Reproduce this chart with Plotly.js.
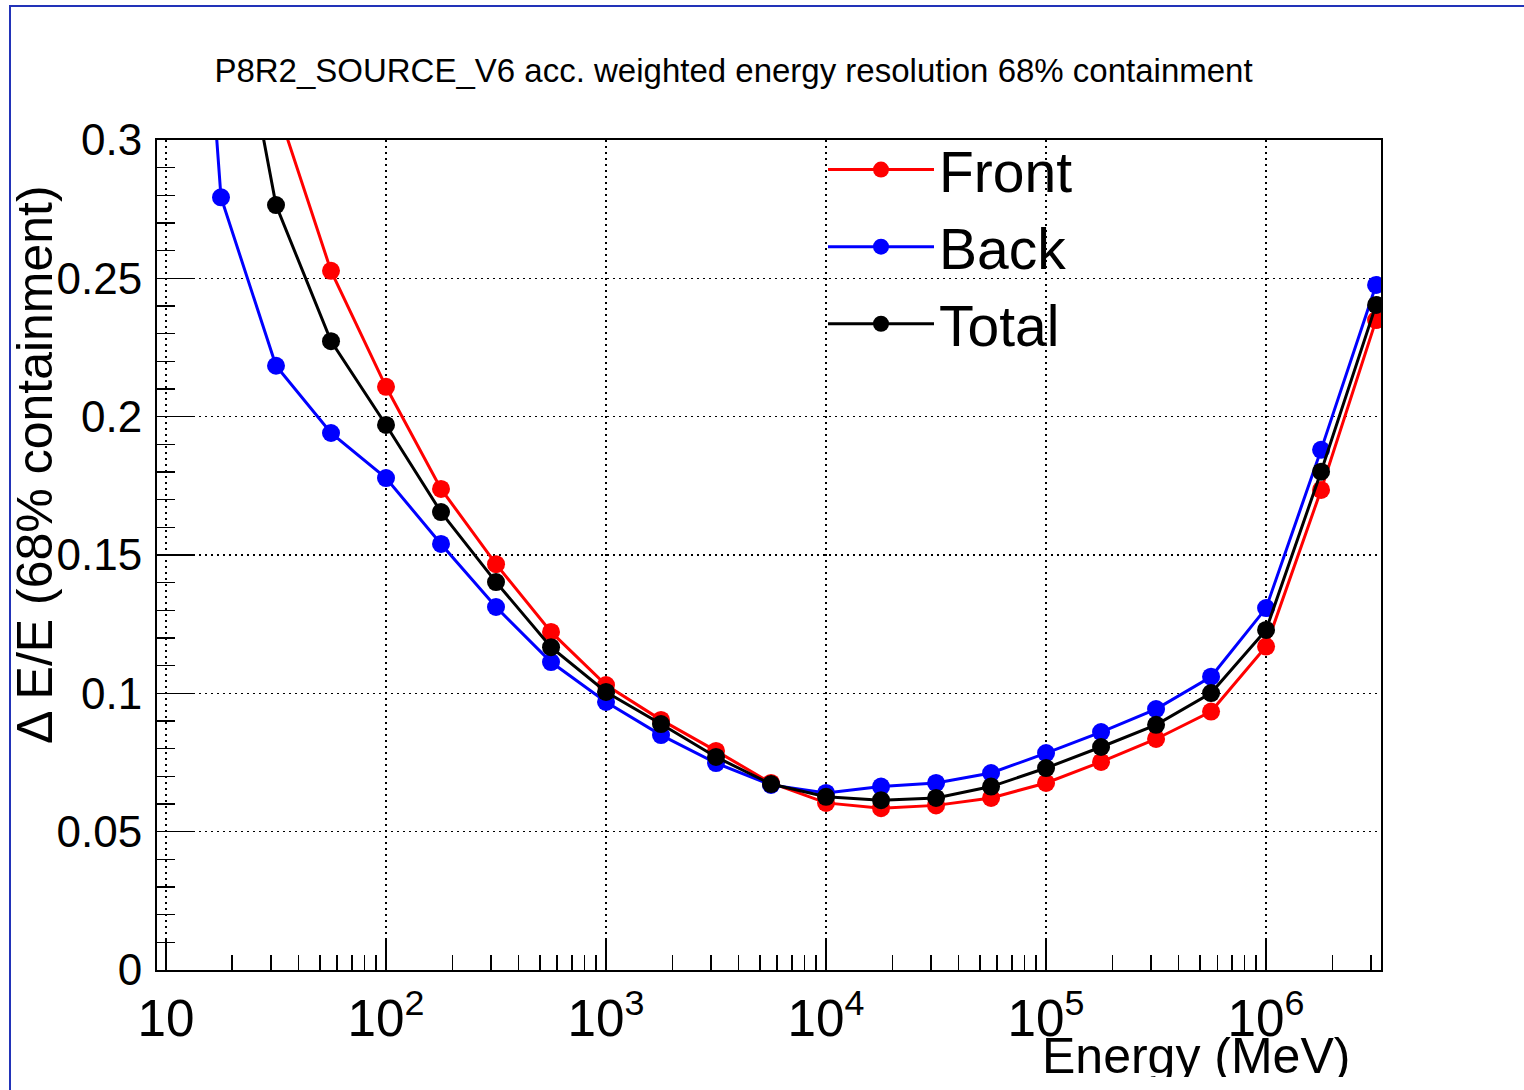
<!DOCTYPE html>
<html>
<head>
<meta charset="utf-8">
<script src="https://cdn.plot.ly/plotly-3.0.1.min.js"></script>
<style>
  html, body { margin: 0; padding: 0; background: #ffffff; overflow: hidden; }
  #wrap { position: absolute; left: 0; top: 0; width: 1524px; height: 1077px; overflow: hidden; }
  #frame { position: absolute; left: 9px; top: 5px; width: 1520px; height: 1090px;
           border-top: 2px solid #2233b8; border-left: 2px solid #2233b8; pointer-events: none; }
  #chart { width: 1524px; height: 1090px; }
</style>
</head>
<body>
<div id="wrap"><div id="chart"></div></div>
<div id="frame"></div>
<script>
// Energy bins (MeV), quarter-decade steps
const energy = [10, 17.78, 31.62, 56.23, 100, 177.8, 316.2, 562.3, 1000, 1778, 3162, 5623,
                10000, 17783, 31623, 56234, 100000, 177828, 316228, 562341, 1000000, 1778279, 3162278];

const seriesNames = ["Front", "Back", "Total"];

const front = [null, null, 0.313, 0.2527, 0.2108, 0.1739, 0.1467, 0.1222, 0.103, 0.0904, 0.0792, 0.0676,
               0.0604, 0.0585, 0.0595, 0.0622, 0.0676, 0.0752, 0.0835, 0.0934, 0.1169, 0.1735, 0.2349];

const back = [0.55, 0.2793, 0.2184, 0.1941, 0.1778, 0.154, 0.1312, 0.1113, 0.0969, 0.0849, 0.0748, 0.0669,
              0.064, 0.0663, 0.0676, 0.0712, 0.0784, 0.086, 0.0943, 0.106, 0.1308, 0.188, 0.2476];

const total = [null, 0.382, 0.2765, 0.2273, 0.197, 0.1655, 0.1402, 0.1167, 0.1005, 0.0889, 0.077, 0.0672,
               0.0626, 0.0614, 0.0622, 0.0663, 0.073, 0.0806, 0.0886, 0.1001, 0.1229, 0.1801, 0.2404];

const colors = ["#ff0000", "#0000ff", "#000000"];
const values = [front, back, total];

const FONT = "Liberation Sans, Arial, Helvetica, sans-serif";

const traces = values.map((v, i) => ({
  x: energy,
  y: v,
  name: seriesNames[i],
  type: "scatter",
  mode: "lines+markers",
  line: { color: colors[i], width: 3 },
  marker: { color: colors[i], size: 18, symbol: "circle" },
  connectgaps: false,
  cliponaxis: true
}));

const layout = {
  width: 1524,
  height: 1090,
  paper_bgcolor: "#ffffff",
  plot_bgcolor: "#ffffff",
  margin: { l: 157, r: 143, t: 140, b: 120 },
  font: { family: FONT, color: "#000000" },
  title: {
    text: "P8R2_SOURCE_V6 acc. weighted energy resolution 68% containment",
    font: { family: FONT, size: 33, color: "#000000" },
    x: 0.4813, xanchor: "center",
    y: 1 - 70 / 1090, yanchor: "middle"
  },
  xaxis: {
    type: "log",
    range: [Math.log10(9.1), Math.log10(3.33e6)],
    dtick: 1,
    exponentformat: "power",
    showgrid: true,
    gridcolor: "#000000",
    gridwidth: 1.5,
    griddash: "2px,4px",
    zeroline: false,
    showline: true,
    linecolor: "#000000",
    linewidth: 2,
    mirror: true,
    ticks: "inside",
    ticklen: 30,
    tickwidth: 1.5,
    tickcolor: "#000000",
    tickfont: { family: FONT, size: 41, color: "#000000" },
    ticklabelstandoff: 5,
    minor: { ticks: "inside", ticklen: 15, tickwidth: 1.5, tickcolor: "#000000", dtick: "D1", showgrid: false }
  },
  yaxis: {
    range: [0, 0.3],
    dtick: 0.05,
    showgrid: true,
    gridcolor: "#000000",
    gridwidth: 1.5,
    griddash: "2px,4px",
    zeroline: false,
    showline: true,
    linecolor: "#000000",
    linewidth: 2,
    mirror: true,
    ticks: "inside",
    ticklen: 37,
    tickwidth: 1.5,
    tickcolor: "#000000",
    tickfont: { family: FONT, size: 44, color: "#000000" },
    ticklabelstandoff: 4,
    minor: { ticks: "inside", ticklen: 18, tickwidth: 1.5, tickcolor: "#000000", dtick: 0.01, showgrid: false }
  },
  showlegend: true,
  legend: {
    x: (823 - 157) / 1224, xanchor: "left",
    y: (970 - 126) / 830, yanchor: "top",
    bgcolor: "rgba(0,0,0,0)",
    borderwidth: 0,
    font: { family: FONT, size: 57, color: "#000000" },
    itemwidth: 106,
    tracegroupgap: 0
  },
  annotations: [
    {
      text: "Energy (MeV)",
      xref: "paper", yref: "paper",
      x: (1352 - 157) / 1224, xanchor: "right",
      y: (970 - 1056) / 830, yanchor: "middle",
      showarrow: false,
      font: { family: FONT, size: 50, color: "#000000" }
    },
    {
      text: "\u0394 E/E (68% containment)",
      xref: "paper", yref: "paper",
      x: (35 - 157) / 1224, xanchor: "center",
      y: (970 - 465) / 830, yanchor: "middle",
      textangle: -90,
      showarrow: false,
      font: { family: FONT, size: 50, color: "#000000" }
    }
  ]
};

Plotly.newPlot("chart", traces, layout, { displayModeBar: false, staticPlot: true });
</script>
</body>
</html>
